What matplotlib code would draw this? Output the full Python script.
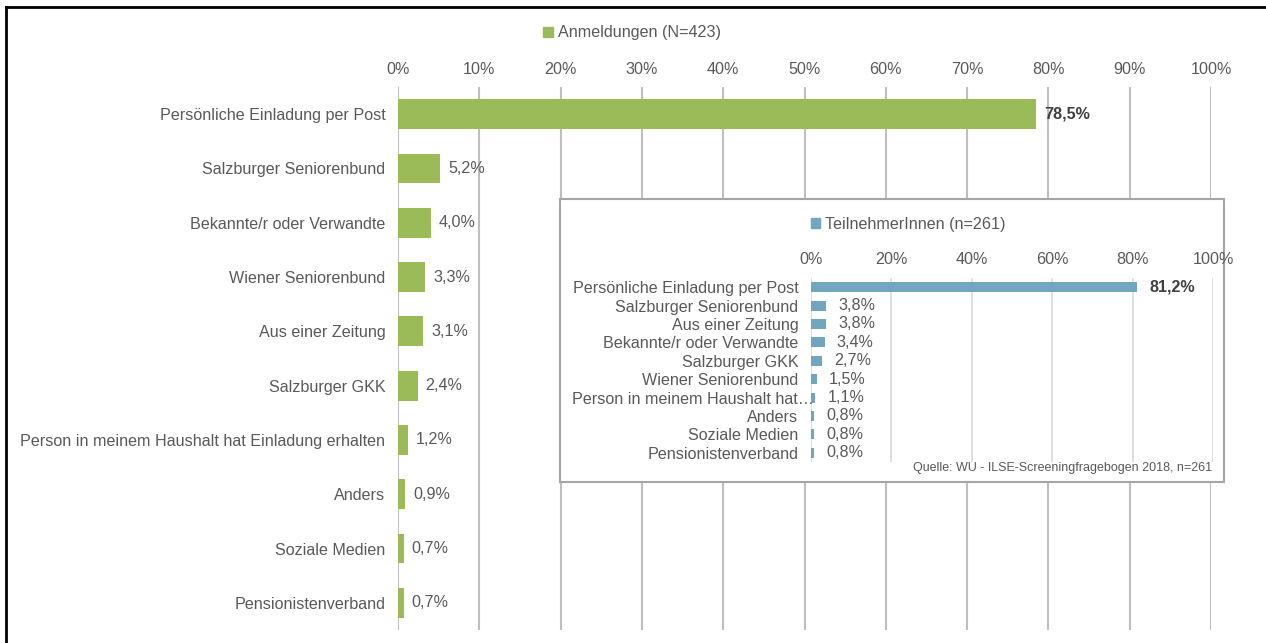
import matplotlib.pyplot as plt
from matplotlib.patches import Rectangle
from matplotlib.lines import Line2D
from matplotlib.transforms import ScaledTranslation

plt.rcParams['font.family'] = ['Liberation Sans', 'DejaVu Sans']

# Main chart data (Anmeldungen)
main_labels = ["Persönliche Einladung per Post", "Salzburger Seniorenbund",
               "Bekannte/r oder Verwandte", "Wiener Seniorenbund",
               "Aus einer Zeitung", "Salzburger GKK",
               "Person in meinem Haushalt hat Einladung erhalten",
               "Anders", "Soziale Medien", "Pensionistenverband"]
main_values = [78.5, 5.2, 4.0, 3.3, 3.1, 2.4, 1.2, 0.9, 0.7, 0.7]

# Inset data (TeilnehmerInnen)
inset_labels = ["Persönliche Einladung per Post", "Salzburger Seniorenbund",
                "Aus einer Zeitung", "Bekannte/r oder Verwandte",
                "Salzburger GKK", "Wiener Seniorenbund",
                "Person in meinem Haushalt hat…", "Anders",
                "Soziale Medien", "Pensionistenverband"]
inset_values = [81.2, 3.8, 3.8, 3.4, 2.7, 1.5, 1.1, 0.8, 0.8, 0.8]

main_ticks = list(range(0, 101, 10))
inset_ticks = list(range(0, 101, 20))

GREEN = "#9BBB59"
BLUE = "#72A5BF"
TXT = "#595959"
FS = 11.6

W, H = 1266, 643
fig = plt.figure(figsize=(W / 100, H / 100), dpi=100)


def rect(x0, y0, x1, y1):
    # pixel box -> figure fraction
    return [x0 / W, 1 - y1 / H, (x1 - x0) / W, (y1 - y0) / H]


def fmt(v):
    return f"{v:.1f}".replace(".", ",") + "%"


# outer frame (left + top only visible)
fig.add_artist(Line2D([6 / W, 6 / W], [0, 1 - 7 / H], color="black", lw=2, transform=fig.transFigure))
fig.add_artist(Line2D([6 / W, 1], [1 - 7 / H, 1 - 7 / H], color="black", lw=2, transform=fig.transFigure))

# main chart
ax = fig.add_axes(rect(398, 87, 1211, 630))
y = list(range(len(main_labels)))
ax.barh(y, main_values, height=0.55, color=GREEN, zorder=3)
ax.set_xlim(0, 100)
ax.set_ylim(len(main_labels) - 0.5, -0.5)
ax.set_xticks(main_ticks)
ax.set_xticklabels([f"{t}%" for t in main_ticks])
ax.xaxis.tick_top()
ax.set_yticks(y)
ax.set_yticklabels(main_labels)
ax.tick_params(length=0, labelsize=FS, labelcolor=TXT)
ax.tick_params(axis="x", pad=7)
ax.tick_params(axis="y", pad=9)
ax.grid(axis="x", color="#BFBFBF", lw=1.5, zorder=0)
for s in ax.spines.values():
    s.set_visible(False)
for i, v in enumerate(main_values):
    ax.text(v + 1.0, i, fmt(v), va="center", ha="left", fontsize=FS,
            color="#404040" if i == 0 else TXT,
            fontweight="bold" if i == 0 else "normal", zorder=4)

fig.legend(handles=[Rectangle((0, 0), 1, 1, color=GREEN)], labels=["Anmeldungen (N=423)"],
           loc="center", bbox_to_anchor=(632 / W, 1 - 33 / H), frameon=False,
           fontsize=FS, labelcolor=TXT, handlelength=0.6, handleheight=0.6,
           handletextpad=0.3)

# inset box
box = fig.add_axes(rect(560, 199, 1224, 482))
box.set_xticks([])
box.set_yticks([])
box.set_facecolor("white")
for s in box.spines.values():
    s.set_color("#A6A6A6")
    s.set_linewidth(1.5)
box.set_zorder(5)

ins = fig.add_axes(rect(811, 278, 1213, 462))
ins.set_zorder(6)
ins.patch.set_visible(False)
yi = list(range(len(inset_labels)))
ins.barh(yi, inset_values, height=0.55, color=BLUE, zorder=3)
ins.set_xlim(0, 100)
ins.set_ylim(len(inset_labels) - 0.5, -0.5)
ins.set_xticks(inset_ticks)
ins.set_xticklabels([f"{t}%" for t in inset_ticks])
ins.xaxis.tick_top()
ins.set_yticks(yi)
ins.set_yticklabels(inset_labels)
ins.tick_params(length=0, labelsize=FS, labelcolor=TXT)
ins.tick_params(axis="x", pad=8)
ins.tick_params(axis="y", pad=9)
ins.grid(axis="x", color="#D9D9D9", lw=1.2, zorder=0)
for s in ins.spines.values():
    s.set_visible(False)
# truncated label sticks out to the right a bit, as in the original
lab = ins.get_yticklabels()[6]
lab.set_transform(lab.get_transform() + ScaledTranslation(15 / 100, 0, fig.dpi_scale_trans))
for i, v in enumerate(inset_values):
    ins.text(v + 3.0, i, fmt(v), va="center", ha="left", fontsize=FS,
             color="#404040" if i == 0 else TXT,
             fontweight="bold" if i == 0 else "normal", zorder=4)

leg2 = fig.legend(handles=[Rectangle((0, 0), 1, 1, color=BLUE)], labels=["TeilnehmerInnen (n=261)"],
                  loc="center", bbox_to_anchor=(908 / W, 1 - 224 / H), frameon=False,
                  fontsize=FS, labelcolor=TXT, handlelength=0.6, handleheight=0.6,
                  handletextpad=0.3)
leg2.set_zorder(7)

t = fig.text(1212 / W, 1 - 468 / H, "Quelle: WU - ILSE-Screeningfragebogen 2018, n=261",
             ha="right", va="center", fontsize=9, color=TXT)
t.set_zorder(7)

fig.savefig("out.png", dpi=100)
